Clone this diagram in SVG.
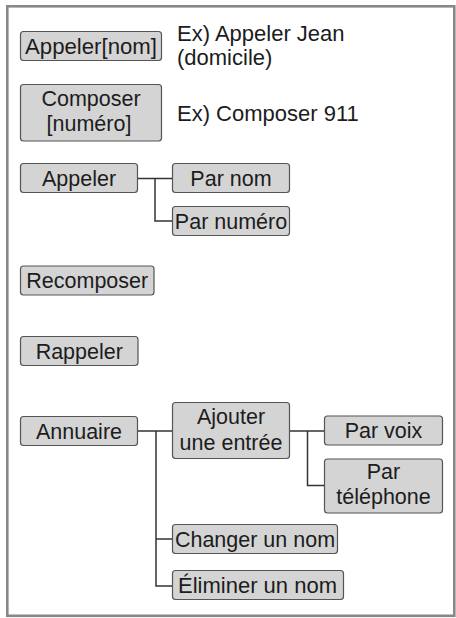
<svg xmlns="http://www.w3.org/2000/svg" width="456" height="618" viewBox="0 0 456 618">
<style>
.box{fill:#d4d4d4;stroke:#555;stroke-width:1.2}
.t{font-family:"Liberation Sans",Arial,sans-serif;font-size:21.5px;fill:#1c1c1c;text-anchor:middle}
.s{font-family:"Liberation Sans",Arial,sans-serif;font-size:22px;fill:#1c1c1c}
.c{fill:none;stroke:#333;stroke-width:1.5}
</style>
<rect x="0" y="0" width="456" height="618" fill="#fff"/>
<rect x="7.3" y="6.3" width="447" height="609.5" fill="#fff" stroke="#888" stroke-width="2.6"/>
<g id="connectors">
<path class="c" d="M137.5 178.5H172.5M155 178.5V221H172.5"/>
<path class="c" d="M137.5 431H172.5M156 431V586H172.5M156 539H172.5"/>
<path class="c" d="M289.5 431H324.5M307.5 431V485.5H324.5"/>
</g>
<g id="n-appeler-nom"><rect class="box" x="20.5" y="31.5" width="141" height="29" rx="3"/><text class="t" x="91" y="53.5" style="font-size:22.2px">Appeler[nom]</text></g>
<g id="note-appeler"><text class="s" x="177" y="41">Ex) Appeler Jean</text><text class="s" x="177" y="65">(domicile)</text></g>
<g id="n-composer"><rect class="box" x="20.5" y="84.5" width="141" height="56.5" rx="3"/><text class="t" x="91" y="106">Composer</text><text class="t" x="89" y="131">[numéro]</text></g>
<g id="note-composer"><text class="s" x="177" y="120.5">Ex) Composer 911</text></g>
<g id="n-appeler"><rect class="box" x="20.5" y="163.5" width="117" height="29" rx="3"/><text class="t" x="79" y="185.5">Appeler</text></g>
<g id="n-par-nom"><rect class="box" x="172.5" y="163.5" width="117" height="29" rx="3"/><text class="t" x="231" y="185.5">Par nom</text></g>
<g id="n-par-numero"><rect class="box" x="172.5" y="206.5" width="117" height="29" rx="3"/><text class="t" x="231" y="228.5">Par numéro</text></g>
<g id="n-recomposer"><rect class="box" x="20.5" y="266" width="133.5" height="29" rx="3"/><text class="t" x="87.25" y="288">Recomposer</text></g>
<g id="n-rappeler"><rect class="box" x="20.5" y="336.5" width="117.5" height="29" rx="3"/><text class="t" x="79.25" y="358.5">Rappeler</text></g>
<g id="n-annuaire"><rect class="box" x="20.5" y="416.5" width="117" height="29" rx="3"/><text class="t" x="79" y="438.5">Annuaire</text></g>
<g id="n-ajouter"><rect class="box" x="172.5" y="402.5" width="117" height="56" rx="3"/><text class="t" x="231" y="424">Ajouter</text><text class="t" x="231" y="449.5">une entrée</text></g>
<g id="n-par-voix"><rect class="box" x="324.5" y="416" width="118" height="29" rx="3"/><text class="t" x="383.5" y="438">Par voix</text></g>
<g id="n-par-telephone"><rect class="box" x="324.5" y="459" width="118" height="54" rx="3"/><text class="t" x="383.5" y="478.5">Par</text><text class="t" x="383.5" y="504">téléphone</text></g>
<g id="n-changer"><rect class="box" x="172.5" y="524.5" width="165" height="29" rx="3"/><text class="t" x="255" y="546.5">Changer un nom</text></g>
<g id="n-eliminer"><rect class="box" x="172.5" y="570.5" width="171" height="29" rx="3"/><text class="t" x="257.5" y="592.5" style="font-size:22px">Éliminer un nom</text></g>
</svg>
